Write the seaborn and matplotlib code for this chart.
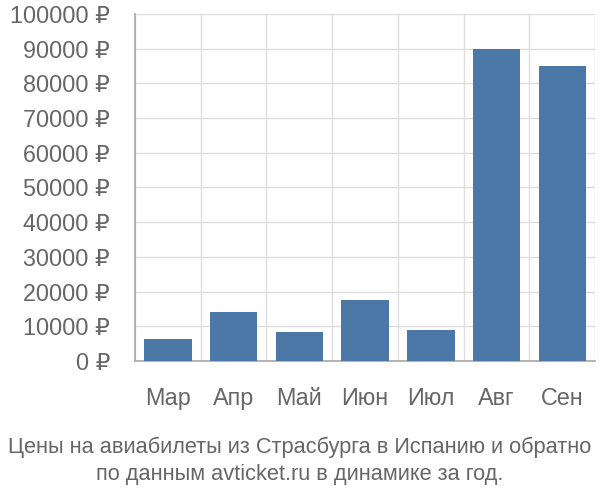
import matplotlib
matplotlib.use("Agg")
import matplotlib.pyplot as plt
import seaborn as sns
import numpy as np
import pandas as pd

# Data
months = ["Мар", "Апр", "Май", "Июн", "Июл", "Авг", "Сен"]
prices = [6300, 14100, 8500, 17500, 9000, 89900, 85000]
y_ticks = list(range(0, 100001, 10000))

BAR_COLOR = "#4c78a8"
TEXT_COLOR = "#666666"
GRID_COLOR = "#dddddd"

sns.set_theme(style="white")
plt.rcParams["font.family"] = ["Liberation Sans", "DejaVu Sans"]

df = pd.DataFrame({"month": months, "price": prices})

fig = plt.figure(figsize=(6, 5), dpi=100)
ax = fig.add_axes([0.225, 0.278, 0.767, 0.694])

sns.barplot(data=df, x="month", y="price", color=BAR_COLOR, width=0.72,
            saturation=1, linewidth=0, ax=ax, zorder=3)

ax.set_xlim(-0.5, len(months) - 0.5)
ax.set_ylim(0, 100000)
ax.set_yticks(y_ticks)
ax.set_yticklabels([f"{v} ₽" for v in y_ticks])

# category boundaries as minor ticks / vertical grid
ax.set_xticks(np.arange(-0.5, len(months), 1), minor=True)
ax.tick_params(axis="x", which="major", length=0, pad=19, labelsize=16.8,
               labelcolor=TEXT_COLOR)
ax.tick_params(axis="x", which="minor", length=19, width=1, color=GRID_COLOR)
ax.tick_params(axis="y", length=17, width=1, color=GRID_COLOR, pad=1,
               labelsize=16.8, labelcolor=TEXT_COLOR)

ax.grid(True, axis="y", color=GRID_COLOR, linewidth=1, zorder=0)
ax.grid(True, axis="x", which="minor", color=GRID_COLOR, linewidth=1, zorder=0)
ax.grid(False, axis="x", which="major")

for side in ["top", "right"]:
    ax.spines[side].set_visible(False)
ax.spines["left"].set_color("#aaaaaa")
ax.spines["bottom"].set_color("#aaaaaa")
ax.set_xlabel("")
ax.set_ylabel("")

fig.text(0.5, 0.078, "Цены на авиабилеты из Страсбурга в Испанию и обратно\n"
         "по данным avticket.ru в динамике за год.",
         ha="center", va="center", fontsize=15.7, color=TEXT_COLOR,
         linespacing=1.38)

fig.savefig("out.png", dpi=100)
